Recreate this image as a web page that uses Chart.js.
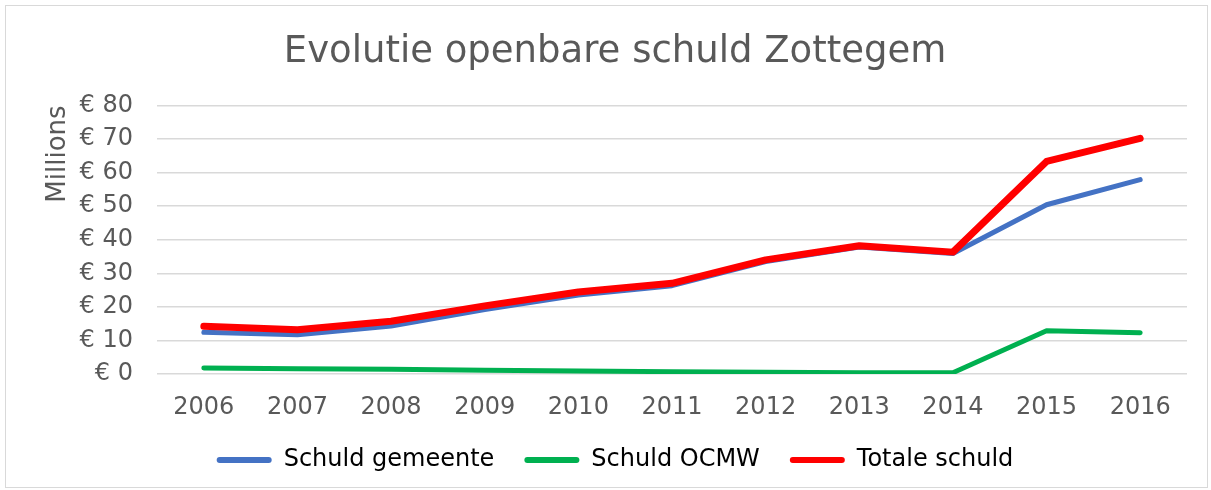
<!DOCTYPE html>
<html>
<head>
<meta charset="utf-8">
<script src="https://cdn.jsdelivr.net/npm/chart.js@4"></script>
<style>
    body { margin: 0; background: #fff; }
    #wrap {
        position: absolute; left: 5px; top: 5px;
        width: 1203px; height: 483px;
        border: 1px solid #d9d9d9; box-sizing: border-box;
    }
</style>
</head>
<body>
<div id="wrap"><canvas id="chart"></canvas></div>
<script>
const years = ['2006', '2007', '2008', '2009', '2010', '2011', '2012', '2013', '2014', '2015', '2016'];
const schuldGemeente = [12.4, 11.7, 14.3, 19.2, 23.5, 26.3, 33.5, 37.8, 35.9, 50.4, 57.9];
const schuldOcmw = [1.8, 1.6, 1.4, 1.1, 0.9, 0.7, 0.5, 0.4, 0.4, 12.9, 12.3];
const totaleSchuld = [14.2, 13.2, 15.7, 20.3, 24.4, 27.0, 34.0, 38.2, 36.3, 63.3, 70.2];
const yTicks = [0, 10, 20, 30, 40, 50, 60, 70, 80];

const textColor = '#595959';
const fontFamily = "'DejaVu Sans', Verdana, sans-serif";

function lineSet(label, data, color, width, order) {
    return {
        label: label,
        data: data,
        borderColor: color,
        backgroundColor: color,
        borderWidth: width,
        borderCapStyle: 'round',
        borderJoinStyle: 'round',
        pointRadius: 0,
        pointHoverRadius: 0,
        tension: 0,
        order: order
    };
}

new Chart(document.getElementById('chart'), {
    type: 'line',
    data: {
        labels: years,
        datasets: [
            lineSet('Schuld gemeente', schuldGemeente, '#4472C4', 5, 1),
            lineSet('Schuld OCMW', schuldOcmw, '#00B050', 5, 2),
            lineSet('Totale schuld', totaleSchuld, '#FF0000', 7, 0)
        ]
    },
    options: {
        responsive: true,
        maintainAspectRatio: false,
        animation: false,
        layout: { padding: { left: 37, right: 20, top: 14, bottom: 5 } },
        scales: {
            x: {
                offset: true,
                grid: { display: false },
                border: { display: false },
                ticks: { color: textColor, font: { family: fontFamily, size: 24 }, padding: 11 },
                afterFit: axis => { axis.height = 44; }
            },
            y: {
                min: 0,
                max: 80,
                afterBuildTicks: axis => { axis.ticks = yTicks.map(v => ({ value: v })); },
                afterFit: axis => { axis.width = 114; },
                grid: { color: '#d9d9d9', lineWidth: 1.5, drawTicks: false },
                border: { display: false },
                ticks: {
                    color: textColor,
                    font: { family: fontFamily, size: 24 },
                    padding: 24,
                    callback: v => '€ ' + v
                },
                title: {
                    display: true,
                    text: 'Millions',
                    align: 'end',
                    color: textColor,
                    font: { family: fontFamily, size: 26 },
                    padding: { top: 0, bottom: 6 }
                }
            }
        },
        plugins: {
            title: {
                display: true,
                text: 'Evolutie openbare schuld Zottegem',
                color: textColor,
                font: { family: fontFamily, size: 37, weight: 'normal' },
                padding: { top: 10, bottom: 31 }
            },
            legend: {
                position: 'bottom',
                labels: {
                    color: textColor,
                    font: { family: fontFamily, size: 24 },
                    boxWidth: 55,
                    boxHeight: 6,
                    padding: 30,
                    generateLabels: chart => chart.data.datasets.map((ds, i) => ({
                        text: ds.label,
                        fillStyle: ds.borderColor,
                        strokeStyle: ds.borderColor,
                        lineWidth: 0,
                        borderRadius: 3,
                        datasetIndex: i
                    }))
                }
            },
            tooltip: { enabled: false }
        }
    }
});
</script>
</body>
</html>
